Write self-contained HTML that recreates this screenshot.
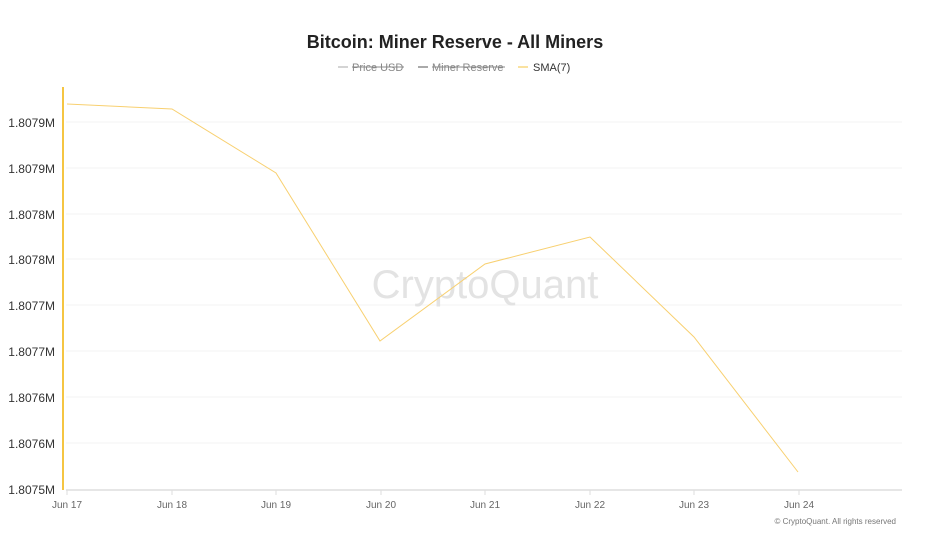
<!DOCTYPE html>
<html><head><meta charset="utf-8"><style>
body{margin:0;background:#fff;}
svg{display:block;font-family:"Liberation Sans",sans-serif;}
</style></head><body>
<svg width="926" height="533" viewBox="0 0 926 533">
<rect width="926" height="533" fill="#fff"/>
<text x="455" y="48" text-anchor="middle" font-size="18" font-weight="bold" fill="#222">Bitcoin: Miner Reserve - All Miners</text>
<g font-size="11" fill="#888">
<line x1="338" y1="67" x2="348" y2="67" stroke="#aaa"/>
<text x="352" y="71">Price USD</text><line x1="352" y1="67" x2="404" y2="67" stroke="#888"/>
<line x1="418" y1="67" x2="428" y2="67" stroke="#555"/>
<text x="432" y="71">Miner Reserve</text><line x1="432" y1="67" x2="505" y2="67" stroke="#888"/>
<line x1="518" y1="67" x2="528" y2="67" stroke="#f5c542"/>
<text x="533" y="71" fill="#333">SMA(7)</text>
</g>
<g stroke="#f3f3f3" stroke-width="1">
<line x1="66" y1="122" x2="902" y2="122"/><line x1="66" y1="168" x2="902" y2="168"/>
<line x1="66" y1="214" x2="902" y2="214"/><line x1="66" y1="259" x2="902" y2="259"/>
<line x1="66" y1="305" x2="902" y2="305"/><line x1="66" y1="351" x2="902" y2="351"/>
<line x1="66" y1="397" x2="902" y2="397"/><line x1="66" y1="443" x2="902" y2="443"/>
</g>
<line x1="66" y1="490" x2="902" y2="490" stroke="#e6e6e6" stroke-width="2"/>
<g stroke="#ddd"><line x1="67" y1="490" x2="67" y2="495"/><line x1="172" y1="490" x2="172" y2="495"/><line x1="276" y1="490" x2="276" y2="495"/><line x1="381" y1="490" x2="381" y2="495"/><line x1="485" y1="490" x2="485" y2="495"/><line x1="590" y1="490" x2="590" y2="495"/><line x1="694" y1="490" x2="694" y2="495"/><line x1="799" y1="490" x2="799" y2="495"/></g>
<g font-size="12" fill="#333" text-anchor="end">
<text x="55" y="127">1.8079M</text><text x="55" y="173">1.8079M</text><text x="55" y="219">1.8078M</text><text x="55" y="264">1.8078M</text><text x="55" y="310">1.8077M</text><text x="55" y="356">1.8077M</text><text x="55" y="402">1.8076M</text><text x="55" y="448">1.8076M</text><text x="55" y="494">1.8075M</text>
</g>
<g font-size="10" fill="#666" text-anchor="middle">
<text x="67" y="508">Jun 17</text><text x="172" y="508">Jun 18</text><text x="276" y="508">Jun 19</text><text x="381" y="508">Jun 20</text><text x="485" y="508">Jun 21</text><text x="590" y="508">Jun 22</text><text x="694" y="508">Jun 23</text><text x="799" y="508">Jun 24</text>
</g>
<text x="896" y="524" font-size="8" fill="#777" text-anchor="end">© CryptoQuant. All rights reserved</text>
<text x="485" y="298" font-size="40" fill="#e3e3e3" text-anchor="middle">CryptoQuant</text>
<line x1="63" y1="87" x2="63" y2="490" stroke="#f5c542" stroke-width="2"/>
<polyline fill="none" stroke="#f8d070" stroke-width="1" points="67,104 172,109 276,173 380,341 485,264 590,237 694,337 798,472"/>
</svg>
</body></html>
